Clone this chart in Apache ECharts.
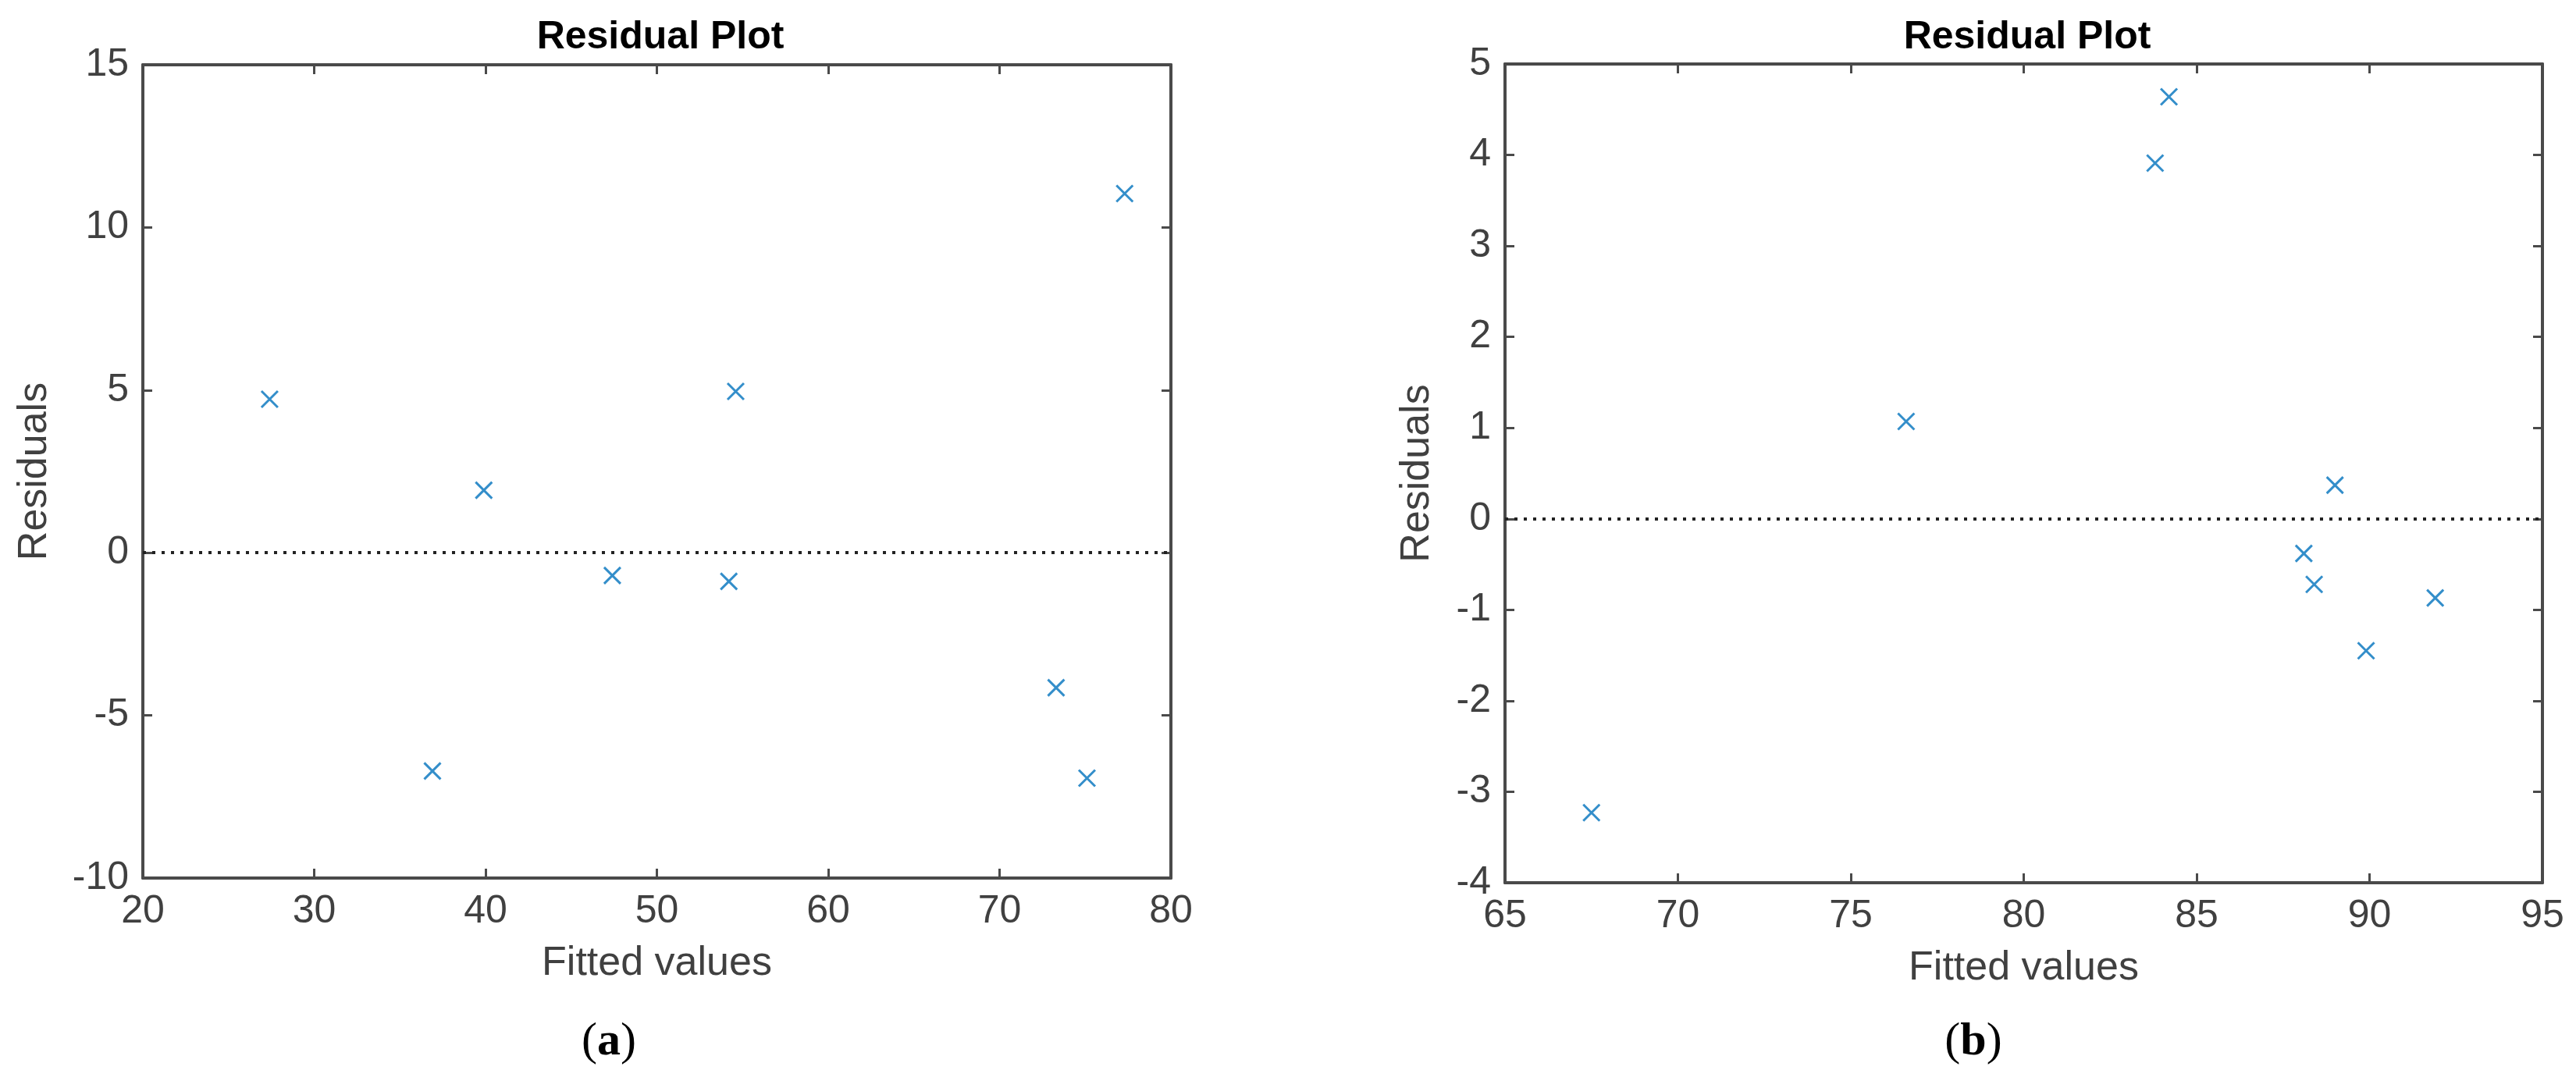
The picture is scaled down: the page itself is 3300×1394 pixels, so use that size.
<!DOCTYPE html>
<html>
<head>
    <meta charset="utf-8">
    <title>Residual Plot</title>
    <script src="https://cdn.jsdelivr.net/npm/echarts/dist/echarts.min.js"></script>
    <style>
        html, body { margin: 0; padding: 0; background: #fff; }
    </style>
</head>
<body>
    <div id="main" style="width: 3300px;height:1394px;"></div>
    <script>
        // data
        var fittedA = [27.4, 36.9, 39.9, 47.4, 54.2, 54.6, 73.3, 75.1, 77.3];
        var residA  = [4.72, -6.71, 1.92, -0.70, -0.88, 4.96, -4.15, -6.93, 11.04];
        var fittedB = [67.5, 76.6, 83.8, 84.2, 88.1, 88.4, 89.0, 89.9, 91.9];
        var residB  = [-3.23, 1.07, 3.91, 4.64, -0.38, -0.72, 0.37, -1.45, -0.87];

        // axis ranges [min, max, interval]
        var xRangeA = [20, 80, 10];
        var yRangeA = [-10, 15, 5];
        var xRangeB = [65, 95, 5];
        var yRangeB = [-4, 5, 1];

        var titleText = 'Residual Plot';
        var xName = 'Fitted values';
        var yName = 'Residuals';
        var panelTags = ['a', 'b'];

        var axisColor = '#4a4a4a';
        var labelColor = '#404040';
        var markColor = '#0072BD';
        var font = 'Liberation Sans, Arial, sans-serif';
        var serif = 'Liberation Serif, serif';

        function toPairs(xs, ys) {
            return xs.map(function (x, i) { return [x, ys[i]]; });
        }

        function makeX(range, gridIndex, pos, main) {
            return {
                type: 'value', gridIndex: gridIndex, position: pos,
                min: range[0], max: range[1], interval: range[2],
                name: main ? xName : '', nameLocation: 'middle', nameGap: 84,
                nameTextStyle: { fontSize: 52, color: labelColor, fontFamily: font },
                axisLine: { show: true, onZero: false, lineStyle: { color: axisColor, width: 4 } },
                axisTick: { show: true, inside: true, length: 12, lineStyle: { color: axisColor, width: 3 } },
                axisLabel: { show: main, fontSize: 50, color: labelColor, fontFamily: font, margin: 18 },
                splitLine: { show: false }
            };
        }

        function makeY(range, gridIndex, pos, main, gap) {
            return {
                type: 'value', gridIndex: gridIndex, position: pos,
                min: range[0], max: range[1], interval: range[2],
                name: main ? yName : '', nameLocation: 'middle', nameGap: gap, nameRotate: 90,
                nameTextStyle: { fontSize: 52, color: labelColor, fontFamily: font },
                axisLine: { show: true, onZero: false, lineStyle: { color: axisColor, width: 4 } },
                axisTick: { show: true, inside: true, length: 12, lineStyle: { color: axisColor, width: 3 } },
                axisLabel: { show: main, fontSize: 50, color: labelColor, fontFamily: font, margin: 18 },
                splitLine: { show: false }
            };
        }

        function makeSeries(xs, ys, idx) {
            return {
                type: 'scatter', xAxisIndex: idx * 2, yAxisIndex: idx * 2,
                data: toPairs(xs, ys),
                symbol: 'path://M0,0L10,10M10,0L0,10',
                symbolSize: 21,
                itemStyle: { color: 'rgba(0,0,0,0)', borderColor: markColor, borderWidth: 3 },
                markLine: {
                    silent: true, symbol: 'none', label: { show: false },
                    lineStyle: { color: '#222', width: 4, type: [4, 8] },
                    data: [{ yAxis: 0 }]
                }
            };
        }

        function tagTitle(tag, x) {
            return {
                text: '{p|(}{b|' + tag + '}{p|)}', left: x, top: 1300, textAlign: 'center',
                textStyle: { rich: {
                    p: { fontSize: 60, fontFamily: serif, fontWeight: 'normal', color: '#000' },
                    b: { fontSize: 60, fontFamily: serif, fontWeight: 'bold', color: '#000' } } }
            };
        }

        var myChart = echarts.init(document.getElementById('main'));

        var option = {
            backgroundColor: '#fff',
            animation: false,
            title: [
                { text: titleText, left: 841, top: 18, textAlign: 'center',
                  textStyle: { fontSize: 50, fontWeight: 'bold', color: '#000', fontFamily: font } },
                { text: titleText, left: 2592, top: 18, textAlign: 'center',
                  textStyle: { fontSize: 50, fontWeight: 'bold', color: '#000', fontFamily: font } },
                tagTitle(panelTags[0], 775),
                tagTitle(panelTags[1], 2523)
            ],
            grid: [
                { left: 183, top: 83, width: 1317, height: 1042 },
                { left: 1928, top: 82, width: 1329, height: 1049 }
            ],
            xAxis: [
                makeX(xRangeA, 0, 'bottom', true),
                makeX(xRangeA, 0, 'top', false),
                makeX(xRangeB, 1, 'bottom', true),
                makeX(xRangeB, 1, 'top', false)
            ],
            yAxis: [
                makeY(yRangeA, 0, 'left', true, 112),
                makeY(yRangeA, 0, 'right', false, 0),
                makeY(yRangeB, 1, 'left', true, 86),
                makeY(yRangeB, 1, 'right', false, 0)
            ],
            series: [
                makeSeries(fittedA, residA, 0),
                makeSeries(fittedB, residB, 1)
            ]
        };

        myChart.setOption(option);
    </script>
</body>
</html>
